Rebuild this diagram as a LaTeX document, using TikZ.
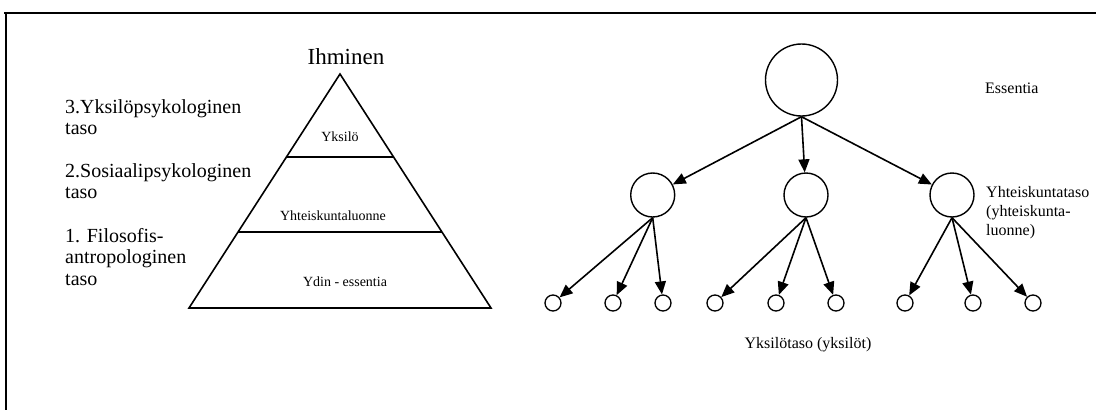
\documentclass[tikz,border=0pt]{standalone}
\usepackage{fontspec}
\setmainfont{Liberation Serif}
\usetikzlibrary{arrows.meta}
\begin{document}
\begin{tikzpicture}[x=1pt,y=-1pt,
  lw/.style={line width=1.6pt},
  big/.style={circle,draw,line width=1.4pt,minimum size=72pt,inner sep=0pt},
  mid/.style={circle,draw,line width=1.4pt,minimum size=44pt,inner sep=0pt},
  small/.style={circle,draw,line width=1.3pt,minimum size=16pt,inner sep=0pt},
  arr/.style={line width=1.6pt,-{Triangle[length=13pt,width=11pt]}},
  lab/.style={font=\fontsize{20}{21.5}\selectfont,align=left,anchor=north west,inner sep=0pt},
  pyr/.style={font=\fontsize{14}{16}\selectfont,inner sep=0pt},
  rlab/.style={font=\fontsize{16}{19}\selectfont,align=left,anchor=west,inner sep=0pt}]
\useasboundingbox (0,0) rectangle (1096,410);
% frame
\draw[line width=1.8pt] (4,13) -- (1096,13);
\draw[line width=1.6pt] (6,13) -- (6,410);
% pyramid
\coordinate (apex) at (340,74);
\coordinate (bl) at (189,308);
\coordinate (br) at (491,308);
\draw[lw,line join=miter] (apex) -- (bl) -- (br) -- cycle;
\draw[lw] (286,157) -- (394,157);
\draw[lw] (238,232) -- (442,232);
\node[font=\fontsize{23}{25}\selectfont,inner sep=0pt] (ihm) at (346,57) {Ihminen};
\node[pyr] (yks) at (340,137) {Yksilö};
\node[pyr] (yht) at (333,216) {Yhteiskuntaluonne};
\node[pyr] (ydin) at (345,282) {Ydin - essentia};
% left labels
\node[lab] (l3) at (65,99) {3.Yksilöpsykologinen\\taso};
\node[lab] (l2) at (65,163) {2.Sosiaalipsykologinen\\taso};
\node[lab] (l1) at (65,228) {1. Filosofis-\\antropologinen\\taso};
% tree
\node[big] (top) at (801.5,80) {};
\node[mid] (m1) at (652.7,195) {};
\node[mid] (m2) at (806,195) {};
\node[mid] (m3) at (952,195) {};
\foreach \n/\x in {s1/553,s2/613,s3/663,s4/715,s5/776,s6/836,s7/905,s8/973,s9/1033}
  \node[small] (\n) at (\x,303) {};
\draw[arr] (top.south) -- (m1);
\draw[arr] (top.south) -- (m2);
\draw[arr] (top.south) -- (m3);
\draw[arr] (m1.south) -- (s1);
\draw[arr] (m1.south) -- (s2);
\draw[arr] (m1.south) -- (s3);
\draw[arr] (m2.south) -- (s4);
\draw[arr] (m2.south) -- (s5);
\draw[arr] (m2.south) -- (s6);
\draw[arr] (m3.south) -- (s7);
\draw[arr] (m3.south) -- (s8);
\draw[arr] (m3.south) -- (s9);
% right labels
\node[rlab] (ess) at (985,88) {Essentia};
\node[rlab,anchor=north west] (ytas) at (986,186) {Yhteiskuntataso\\(yhteiskunta-\\luonne)};
\node[font=\fontsize{16}{19}\selectfont,inner sep=0pt] (yksi) at (808,345) {Yksilötaso (yksilöt)};
\end{tikzpicture}
\end{document}
